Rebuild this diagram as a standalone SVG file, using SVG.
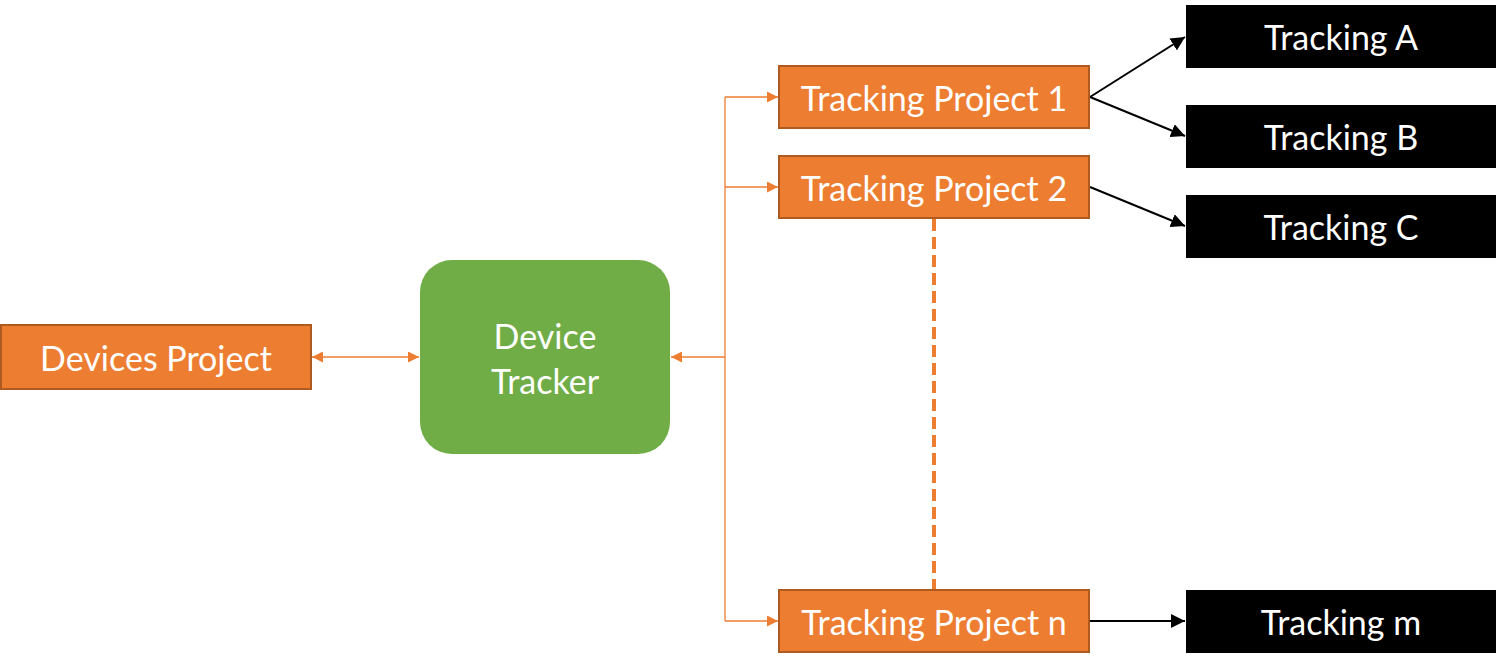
<svg xmlns="http://www.w3.org/2000/svg" width="1496" height="667" viewBox="0 0 1496 667">
<style>
.orange{fill:#ED7D31;stroke:#AE5A21;stroke-width:2}
.black{fill:#000000}
.green{fill:#70AD47}
text{font-family:Lato,"Open Sans","Liberation Sans",sans-serif;fill:#FFFFFF;font-size:34px;text-anchor:middle;dominant-baseline:central}
.oc{stroke:#ED7D31;stroke-width:1.3;fill:none}
.bc{stroke:#000000;stroke-width:2;fill:none}
</style>
<defs>
<marker id="oa" viewBox="0 0 10 10" refX="10" refY="5" markerWidth="11" markerHeight="11" markerUnits="userSpaceOnUse" orient="auto-start-reverse"><path d="M0,0 L10,5 L0,10 z" fill="#ED7D31"/></marker>
<marker id="ba" viewBox="0 0 10 10" refX="10" refY="5" markerWidth="14" markerHeight="14" markerUnits="userSpaceOnUse" orient="auto"><path d="M0,0 L10,5 L0,10 z" fill="#000000"/></marker>
</defs>
<g id="connectors">
<line class="oc" x1="312" y1="357" x2="419" y2="357" marker-start="url(#oa)" marker-end="url(#oa)"/>
<line class="oc" x1="725" y1="357" x2="671" y2="357" marker-end="url(#oa)"/>
<polyline class="oc" points="725,97 725,621"/>
<line class="oc" x1="725" y1="97" x2="778" y2="97" marker-end="url(#oa)"/>
<line class="oc" x1="725" y1="187" x2="778" y2="187" marker-end="url(#oa)"/>
<line class="oc" x1="725" y1="621" x2="778" y2="621" marker-end="url(#oa)"/>
<line x1="934" y1="219" x2="934" y2="589" stroke="#ED7D31" stroke-width="4" stroke-dasharray="12,6"/>
<line class="bc" x1="1090" y1="97" x2="1185" y2="37" marker-end="url(#ba)"/>
<line class="bc" x1="1090" y1="97" x2="1185" y2="136" marker-end="url(#ba)"/>
<line class="bc" x1="1090" y1="187" x2="1185" y2="226" marker-end="url(#ba)"/>
<line class="bc" x1="1090" y1="621" x2="1185" y2="621" marker-end="url(#ba)"/>
</g>
<g id="devices-project"><rect class="orange" x="1" y="325" width="310" height="64"/><text x="156" y="357">Devices Project</text></g>
<g id="device-tracker"><rect class="green" x="420" y="260" width="250" height="194" rx="32" ry="32"/><text x="545" y="335">Device</text><text x="545" y="380">Tracker</text></g>
<g id="tracking-project-1"><rect class="orange" x="779" y="66" width="310" height="62"/><text x="934" y="97">Tracking Project 1</text></g>
<g id="tracking-project-2"><rect class="orange" x="779" y="156" width="310" height="62"/><text x="934" y="187">Tracking Project 2</text></g>
<g id="tracking-project-n"><rect class="orange" x="779" y="590" width="310" height="62"/><text x="934" y="621">Tracking Project n</text></g>
<g id="tracking-a"><rect class="black" x="1186" y="5" width="310" height="63"/><text x="1341" y="36">Tracking A</text></g>
<g id="tracking-b"><rect class="black" x="1186" y="105" width="310" height="63"/><text x="1341" y="136">Tracking B</text></g>
<g id="tracking-c"><rect class="black" x="1186" y="195" width="310" height="63"/><text x="1341" y="226">Tracking C</text></g>
<g id="tracking-m"><rect class="black" x="1186" y="590" width="310" height="63"/><text x="1341" y="621">Tracking m</text></g>
</svg>
